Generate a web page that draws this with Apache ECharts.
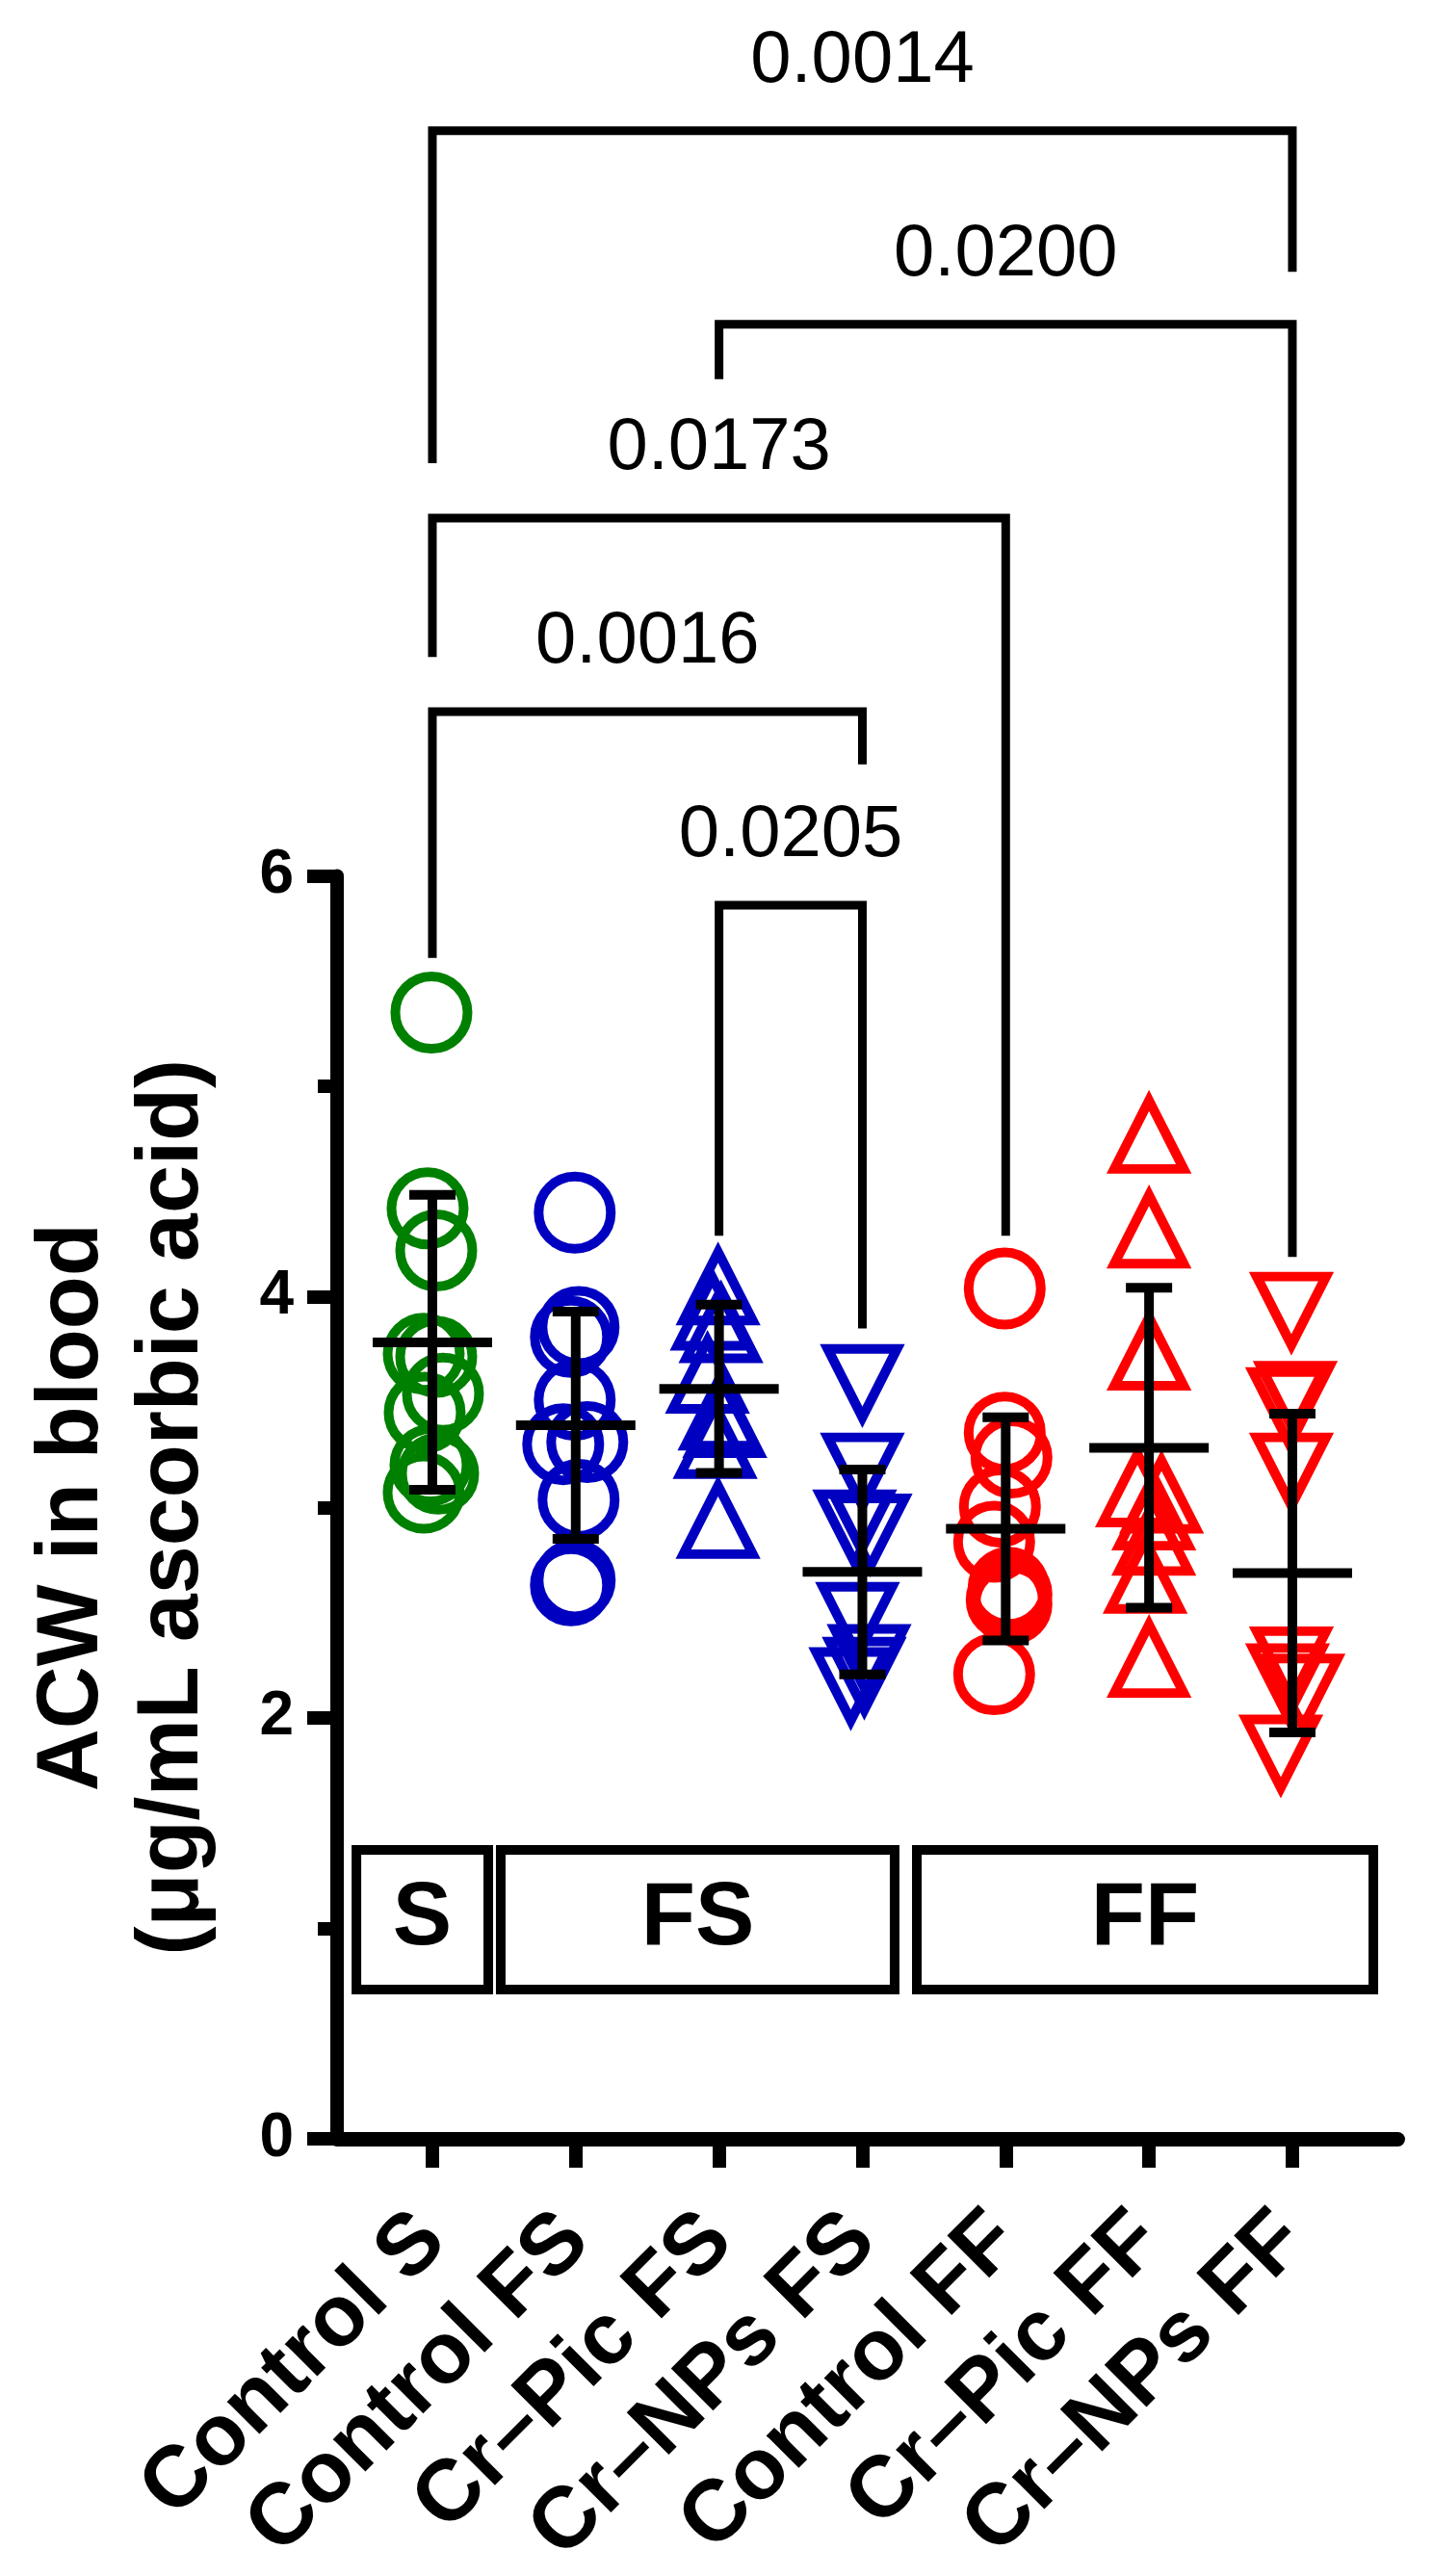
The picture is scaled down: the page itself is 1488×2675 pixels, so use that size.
<!DOCTYPE html>
<html><head><meta charset="utf-8">
<script src="https://cdn.jsdelivr.net/npm/echarts@6/dist/echarts.min.js"></script>
<style>html,body{margin:0;padding:0;background:#fff}#c{width:1488px;height:2675px}</style>
</head><body><div id="c"></div>
<script>
// ---------- data ----------
const categories = ['Control S','Control FS','Cr–Pic FS','Cr–NPs FS','Control FF','Cr–Pic FF','Cr–NPs FF'];
const controlS  = [5.35, 4.42, 4.22, 3.73, 3.715, 3.54, 3.45, 3.2, 3.16, 3.07];
const controlFS = [4.40, 3.857, 3.81, 3.51, 3.30, 3.31, 3.036, 2.654, 2.63];
const crPicFS   = [4.05, 3.93, 3.87, 3.63, 3.455, 3.42, 3.32, 2.94];
const crNPsFS   = [3.59, 3.17, 2.90, 2.88, 2.46, 2.26, 2.20, 2.15];
const controlFF = [4.04, 3.355, 3.237, 3.004, 2.837, 2.618, 2.587, 2.56, 2.54, 2.207];
const crPicFF   = [4.77, 4.32, 3.74, 3.09, 3.06, 2.98, 2.86, 2.68, 2.28];
const crNPsFF   = [3.934, 3.51, 3.48, 3.17, 2.249, 2.169, 2.119, 1.83];
const meanVals  = [3.784, 3.39, 3.563, 2.693, 2.898, 3.283, 2.688];
const sdVals    = [0.70, 0.54, 0.40, 0.487, 0.53, 0.76, 0.757];
const yTickVals = [0, 2, 4, 6];
// significance comparisons
const compLeft     = [2, 0, 0, 2, 0];
const compRight    = [3, 3, 4, 6, 6];
const compLevel    = [5.86, 6.78, 7.70, 8.62, 9.54];
const compLeftEnd  = [4.29, 5.61, 7.04, 8.36, 7.96];
const compRightEnd = [3.85, 6.53, 4.29, 4.19, 8.87];
const compP        = ['0.0205', '0.0016', '0.0173', '0.0200', '0.0014'];
// group boxes
const groupLabels = ['S', 'FS', 'FF'];
const groupFrom   = [-0.53, 0.477, 3.38];
const groupTo     = [0.39, 3.225, 6.565];

// ---------- style ----------
const FONT = '"Liberation Sans", Arial, sans-serif';
const groupLow = 0.709, groupHigh = 1.373;
const jitter = [
  [-1,-5,4,-9,4,11,-8,-2,6,-9],
  [-1,3,-5,-1,-13,12,3,-1,-5],
  [-1,-7,2,-12,1,6,-4,-1],
  [0,0,-8,8,-5,7,2,-12],
  [-1,-1,6,-6,-12,3,6,1,6,-12],
  [0,0,0,-12,13,5,5,-4,0],
  [-1,3,-5,-1,-1,-5,11,-12]
];
const groups  = [controlS, controlFS, crPicFS, crNPsFS, controlFF, crPicFF, crNPsFF];
const colors  = ['#008000','#0000C0','#0000C0','#0000C0','#FF0000','#FF0000','#FF0000'];
const symbols = ['circle','circle','triangle','triangle','circle','triangle','triangle'];
const rotations = [0,0,0,180,0,0,180];

const series = groups.map((vals, gi) => ({
  type: 'scatter',
  symbol: symbols[gi],
  symbolSize: symbols[gi] === 'circle' ? 75 : [72, 71],
  symbolRotate: rotations[gi],
  itemStyle: { color: 'rgba(0,0,0,0)', borderColor: colors[gi], borderWidth: 10, borderJoin: 'miter', borderMiterLimit: 10, opacity: 1 },
  data: vals.map((v, k) => ({ value: [gi, v], symbolOffset: [jitter[gi][k], 0] })),
  z: 2, silent: true
}));

series.push({
  type: 'custom', z: 5, silent: true,
  data: meanVals.map((m, i) => [i, m, sdVals[i]]),
  renderItem: (params, api) => {
    const i = api.value(0), m = api.value(1), s = api.value(2);
    const c = api.coord([i, m]), t = api.coord([i, m + s]), b = api.coord([i, m - s]);
    const st = { stroke: '#000', lineWidth: 10 };
    return { type: 'group', children: [
      { type: 'line', shape: { x1: c[0] - 62, y1: c[1], x2: c[0] + 62, y2: c[1] }, style: st },
      { type: 'line', shape: { x1: c[0], y1: t[1], x2: c[0], y2: b[1] }, style: st },
      { type: 'line', shape: { x1: c[0] - 24, y1: t[1], x2: c[0] + 24, y2: t[1] }, style: st },
      { type: 'line', shape: { x1: c[0] - 24, y1: b[1], x2: c[0] + 24, y2: b[1] }, style: st }
    ]};
  }
});

series.push({
  type: 'custom', z: 6, clip: false, silent: true,
  data: compP.map((p, i) => [compLeft[i], compRight[i], compLevel[i], compLeftEnd[i], compRightEnd[i]]),
  renderItem: (params, api) => {
    const x1 = api.value(0), x2 = api.value(1), lv = api.value(2), e1 = api.value(3), e2 = api.value(4);
    const a = api.coord([x1, e1]), b = api.coord([x1, lv]), c = api.coord([x2, lv]), d = api.coord([x2, e2]);
    return { type: 'group', children: [
      { type: 'polyline', shape: { points: [a, b, c, d] }, style: { stroke: '#000', lineWidth: 9, fill: 'none', lineJoin: 'miter' } },
      { type: 'text', x: (b[0] + c[0]) / 2, y: b[1] - 72,
        style: { text: compP[params.dataIndex], fontSize: 76, fontFamily: FONT, fill: '#000', align: 'center', verticalAlign: 'middle' } }
    ]};
  }
});

series.push({
  type: 'custom', z: 6, clip: false, silent: true,
  data: groupLabels.map((g, i) => [groupFrom[i], groupTo[i]]),
  renderItem: (params, api) => {
    const p1 = api.coord([api.value(0), groupHigh]), p2 = api.coord([api.value(1), groupLow]);
    return { type: 'group', children: [
      { type: 'rect', shape: { x: p1[0], y: p1[1], width: p2[0] - p1[0], height: p2[1] - p1[1] },
        style: { fill: 'none', stroke: '#000', lineWidth: 10 } },
      { type: 'text', x: (p1[0] + p2[0]) / 2, y: (p1[1] + p2[1]) / 2,
        style: { text: groupLabels[params.dataIndex], fontSize: 92, fontWeight: 'bold', fontFamily: FONT, fill: '#000', align: 'center', verticalAlign: 'middle' } }
    ]};
  }
});

const chart = echarts.init(document.getElementById('c'), null, { renderer: 'canvas' });
chart.setOption({
  animation: false,
  backgroundColor: '#fff',
  grid: { left: 350, right: 36.5, top: 909.5, bottom: 454, containLabel: false, outerBoundsMode: 'none' },
  xAxis: {
    type: 'value', min: -0.665, max: 6.736,
    axisLine: { show: true, onZero: false, lineStyle: { color: '#000', width: 15 } },
    axisTick: { show: true, customValues: [0,1,2,3,4,5,6], length: 30, lineStyle: { color: '#000', width: 14 } },
    axisLabel: { show: true, customValues: [0,1,2,3,4,5,6], formatter: v => categories[Math.round(v)], rotate: 45, margin: 92,
      fontSize: 90, fontWeight: 'bold', color: '#000', fontFamily: FONT },
    splitLine: { show: false }
  },
  yAxis: {
    type: 'value', min: 0, max: 6, interval: 2,
    axisLine: { show: true, onZero: false, lineStyle: { color: '#000', width: 14 } },
    axisTick: { show: true, length: 31, lineStyle: { color: '#000', width: 14 } },
    minorTick: { show: true, splitNumber: 2, length: 20, lineStyle: { color: '#000', width: 14 } },
    axisLabel: { margin: 45, fontSize: 64, fontWeight: 'bold', color: '#000', fontFamily: FONT,
      formatter: v => (yTickVals.indexOf(v) >= 0 ? String(v) : '') },
    splitLine: { show: false },
    name: 'ACW in blood\n(μg/mL ascorbic acid)', nameLocation: 'middle', nameRotate: 90, nameGap: 118,
    nameTextStyle: { fontSize: 90, fontWeight: 'bold', color: '#000', lineHeight: 104, fontFamily: FONT }
  },
  series: series
});
</script>
</body></html>
